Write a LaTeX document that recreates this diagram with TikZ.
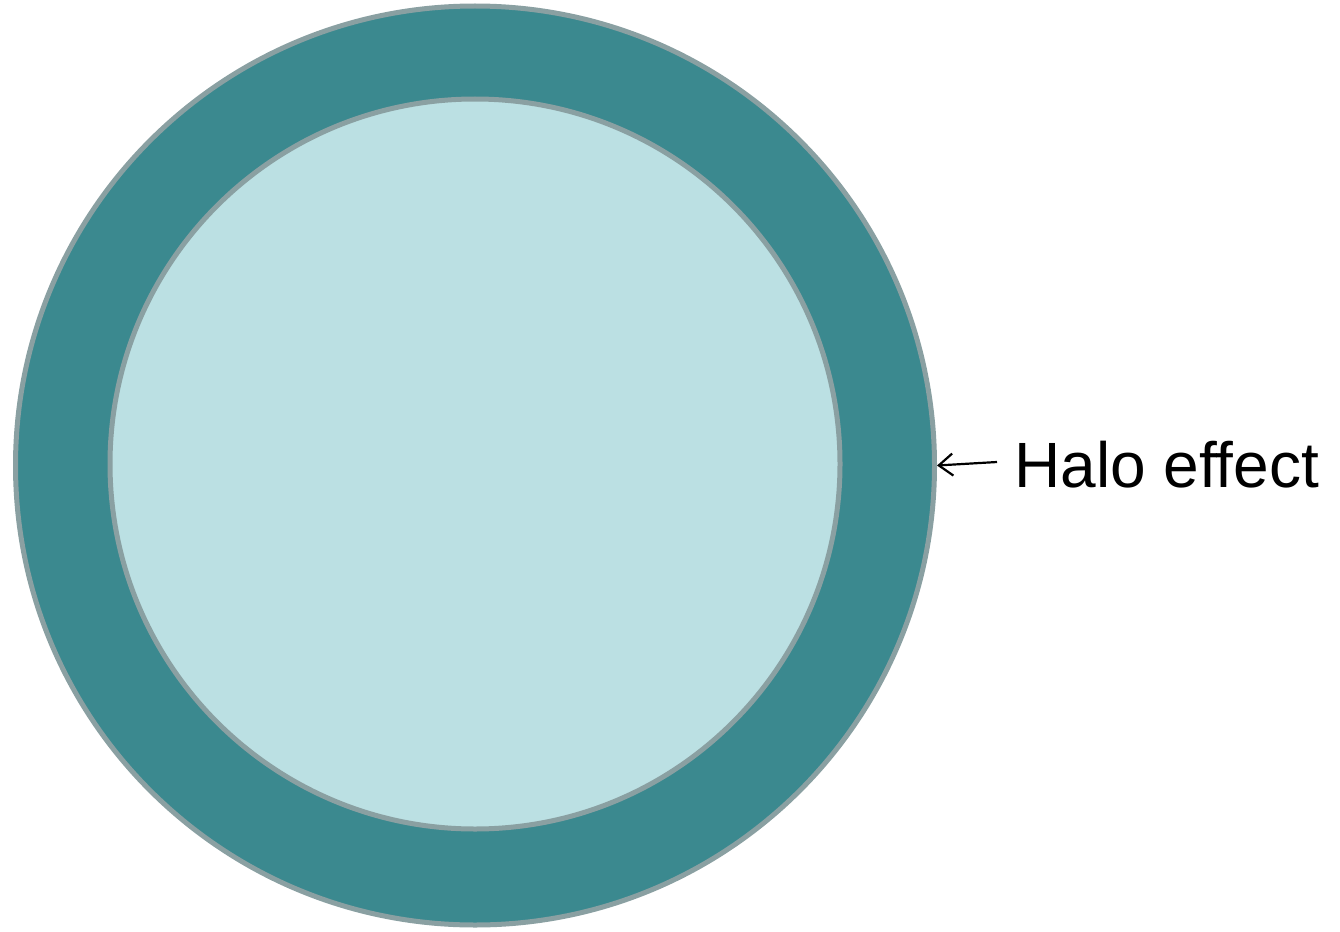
\documentclass[tikz,border=0pt]{standalone}
\usepackage{fontspec}
\setmainfont[Ligatures=NoCommon]{Liberation Sans}
\usetikzlibrary{arrows.meta}
\definecolor{ringfill}{HTML}{3B898F}
\definecolor{corefill}{HTML}{BBE0E3}
\definecolor{ringedge}{HTML}{8AA0A2}
\tikzset{
  disc/.style={circle, draw=ringedge, line width=5pt, inner sep=0pt},
  pointer/.style={-{Straight Barb[length=14pt,width=22pt,line width=2.2pt]}, line width=2.2pt, black},
  label/.style={anchor=base west, inner sep=0pt, font=\fontsize{64}{70}\selectfont}
}
\begin{document}
\begin{tikzpicture}[x=1pt,y=-1pt]
\useasboundingbox (0,0) rectangle (1340,931);
\node[disc, fill=ringfill, minimum size=919pt] (outer) at (475,465.5) {};
\node[disc, fill=corefill, minimum size=730pt] (inner) at (475,464) {};
\node[label] (halo) at (1014,487) {Halo effect};
\coordinate (tail) at (997,462);
\draw[pointer] (tail) -- (outer.east);
\end{tikzpicture}
\end{document}
